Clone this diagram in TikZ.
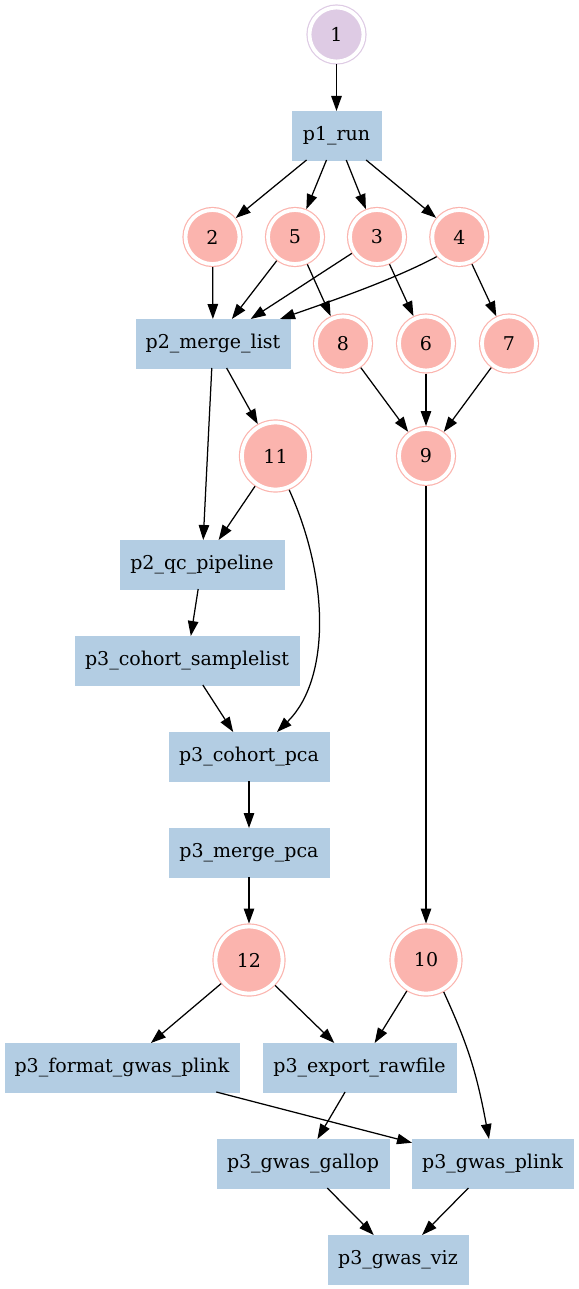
\documentclass[tikz,border=0pt]{standalone}
\usepackage{fontspec}
\setmainfont{DejaVu Serif}
\usetikzlibrary{arrows.meta,calc}
\definecolor{boxblue}{HTML}{B3CDE3}
\definecolor{circred}{HTML}{FBB4AE}
\definecolor{circpurple}{HTML}{DECBE4}
\begin{document}
\begin{tikzpicture}[x=1pt,y=-1pt,
  every node/.style={font=\fontsize{19}{22}\selectfont},
  task/.style={rectangle, fill=boxblue, draw=boxblue, line width=0.6pt, minimum height=49pt, inner sep=0pt, outer sep=0pt},
  dc/.style={circle, fill=circred, draw=circred, double=white, double distance=3.8pt, line width=1.2pt, inner sep=0pt, minimum size=54pt, outer sep=3pt},
  dcbig/.style={dc, minimum size=67pt},
  edge/.style={line width=1.25pt, -{Triangle[length=15pt,width=10.5pt]}}]
\useasboundingbox (0,0) rectangle (578,1289);
% nodes
\node[dc, fill=circpurple, draw=circpurple] (n1) at (336.5,34.5) {1};
\node[task, minimum width=89pt] (p1run) at (336.5,135.5) {p1\_run};
\node[dc] (n2) at (212.5,237) {2};
\node[dc] (n5) at (295,237) {5};
\node[dc] (n3) at (377,237) {3};
\node[dc] (n4) at (459.3,237) {4};
\node[task, minimum width=154pt] (merge) at (213,343.5) {p2\_merge\_list};
\node[dc] (n8) at (343,343.5) {8};
\node[dc] (n6) at (426,343.5) {6};
\node[dc] (n7) at (509,343.5) {7};
\node[dcbig] (n11) at (275.5,456) {11};
\node[dc] (n9) at (426,456) {9};
\node[task, minimum width=164pt] (qc) at (202,564.5) {p2\_qc\_pipeline};
\node[task, minimum width=224pt] (sample) at (187,660.5) {p3\_cohort\_samplelist};
\node[task, minimum width=160pt] (pca) at (249,756.5) {p3\_cohort\_pca};
\node[task, minimum width=160pt] (mpca) at (249,852.5) {p3\_merge\_pca};
\node[dcbig] (n12) at (249,960) {12};
\node[dcbig] (n10) at (426,960) {10};
\node[task, minimum width=234pt] (fmt) at (122,1067.5) {p3\_format\_gwas\_plink};
\node[task, minimum width=193pt] (export) at (359.5,1067.5) {p3\_export\_rawfile};
\node[task, minimum width=172pt] (gallop) at (303,1163.5) {p3\_gwas\_gallop};
\node[task, minimum width=161pt] (gplink) at (492.5,1163.5) {p3\_gwas\_plink};
\node[task, minimum width=140pt] (viz) at (398,1259.5) {p3\_gwas\_viz};
% edges
\draw[edge] (n1) -- (p1run);
\draw[edge] (p1run) -- (n2);
\draw[edge] (p1run) -- (n5);
\draw[edge] (p1run) -- (n3);
\draw[edge] (p1run) -- (n4);
\draw[edge] (n2) -- (merge);
\draw[edge] (n5) -- (merge);
\draw[edge] (n3) -- (merge);
\draw[edge] (n4.221) .. controls (392,280.5) and (327,302.5) .. ($(merge.north east)+(-10,0)$);
\draw[edge] (n5) -- (n8);
\draw[edge] (n3) -- (n6);
\draw[edge] (n4) -- (n7);
\draw[edge] (n8) -- (n9);
\draw[edge] (n6) -- (n9);
\draw[edge] (n7) -- (n9);
\draw[edge] (merge) -- (qc);
\draw[edge] (merge) -- (n11);
\draw[edge] (n11) -- (qc);
\draw[edge] (n11.-68) .. controls (330,580) and (330,680) .. ($(pca.north)+(28,0)$);
\draw[edge] (qc) -- (sample);
\draw[edge] (sample) -- (pca);
\draw[edge] (pca) -- (mpca);
\draw[edge] (mpca) -- (n12);
\draw[edge] (n9) -- (n10);
\draw[edge] (n12) -- (fmt);
\draw[edge] (n12) -- (export);
\draw[edge] (n10) -- (export);
\draw[edge] (n10.-61) .. controls (469,1047) and (477,1075) .. ($(gplink.north)+(-3.5,0)$);
\draw[edge] (fmt) -- (gplink);
\draw[edge] (export) -- (gallop);
\draw[edge] (gallop) -- (viz);
\draw[edge] (gplink) -- (viz);
\end{tikzpicture}
\end{document}
